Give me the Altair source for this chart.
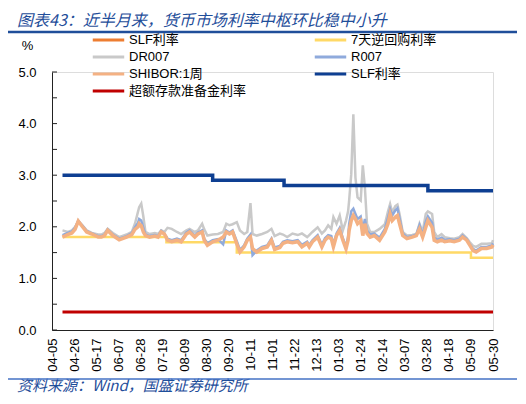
import altair as alt
import pandas as pd

# ---- daily series ----
dates = [
    "2024-04-15", "2024-04-20", "2024-04-24", "2024-04-27", "2024-04-30", "2024-05-04", "2024-05-08",
    "2024-05-13", "2024-05-19", "2024-05-22", "2024-05-25", "2024-05-28", "2024-06-02", "2024-06-08",
    "2024-06-15", "2024-06-20", "2024-06-23", "2024-06-26", "2024-06-27", "2024-06-29", "2024-07-01",
    "2024-07-03", "2024-07-07", "2024-07-12", "2024-07-15", "2024-07-18", "2024-07-21", "2024-07-24",
    "2024-07-28", "2024-08-02", "2024-08-06", "2024-08-11", "2024-08-14", "2024-08-19", "2024-08-22",
    "2024-08-26", "2024-08-28", "2024-08-31", "2024-09-05", "2024-09-10", "2024-09-15", "2024-09-18",
    "2024-09-21", "2024-09-24", "2024-09-28", "2024-10-01", "2024-10-05", "2024-10-08", "2024-10-11",
    "2024-10-13", "2024-10-17", "2024-10-22", "2024-10-27", "2024-10-31", "2024-11-03", "2024-11-08",
    "2024-11-11", "2024-11-15", "2024-11-20", "2024-11-25", "2024-11-29", "2024-12-04", "2024-12-06",
    "2024-12-09", "2024-12-14", "2024-12-18", "2024-12-21", "2024-12-24", "2024-12-27", "2024-12-29",
    "2025-01-01", "2025-01-04", "2025-01-07", "2025-01-10", "2025-01-12", "2025-01-13", "2025-01-15",
    "2025-01-17", "2025-01-19", "2025-01-21", "2025-01-24", "2025-01-26", "2025-01-28", "2025-01-30",
    "2025-02-02", "2025-02-06", "2025-02-11", "2025-02-16", "2025-02-19", "2025-02-21", "2025-02-23",
    "2025-02-26", "2025-02-28", "2025-03-02", "2025-03-05", "2025-03-09", "2025-03-14", "2025-03-18",
    "2025-03-21", "2025-03-24", "2025-03-27", "2025-03-29", "2025-04-02", "2025-04-04", "2025-04-07",
    "2025-04-11", "2025-04-14", "2025-04-19", "2025-04-23", "2025-04-28", "2025-05-01", "2025-05-05",
    "2025-05-08", "2025-05-11", "2025-05-14", "2025-05-19", "2025-05-24", "2025-05-29", "2025-05-30",
]
shibor = [
    1.80, 1.85, 1.88, 1.95, 2.11, 2.00, 1.90,
    1.86, 1.80, 1.80, 1.83, 1.93, 1.83, 1.75,
    1.80, 1.85, 1.95, 2.00, 2.06, 2.02, 1.90,
    1.83, 1.80, 1.82, 1.80, 1.90, 1.86, 1.74,
    1.71, 1.74, 1.71, 1.86, 1.90, 1.80, 1.86,
    1.90, 1.74, 1.64, 1.71, 1.74, 1.80, 1.90,
    1.86, 1.90, 1.67, 1.51, 1.61, 1.74, 1.80,
    1.58, 1.51, 1.58, 1.61, 1.74, 1.56, 1.60,
    1.68, 1.71, 1.69, 1.71, 1.61, 1.68, 1.61,
    1.71, 1.80, 1.61, 1.74, 1.80, 1.77, 1.61,
    1.83, 1.93, 1.74, 1.57, 1.74, 1.93, 2.12,
    2.22, 2.15, 2.06, 2.12, 1.83, 2.06, 1.87,
    1.80, 1.83, 1.74, 1.90, 2.06, 2.25, 2.12,
    2.19, 2.22, 2.06, 1.83, 1.77, 1.80, 1.83,
    1.96, 1.80, 1.99, 2.12, 1.99, 1.74, 1.71,
    1.74, 1.71, 1.73, 1.71, 1.74, 1.80, 1.74,
    1.64, 1.54, 1.51, 1.58, 1.58, 1.61, 1.65,
]
r007 = [
    1.84, 1.88, 1.91, 1.98, 2.12, 2.02, 1.92,
    1.87, 1.82, 1.82, 1.85, 1.95, 1.85, 1.77,
    1.82, 1.88, 1.99, 2.08, 2.15, 2.12, 1.98,
    1.85, 1.82, 1.84, 1.82, 1.92, 1.87, 1.77,
    1.74, 1.77, 1.74, 1.89, 1.93, 1.83, 1.89,
    1.93, 1.77, 1.68, 1.74, 1.76, 1.66, 1.93,
    1.89, 1.93, 1.72, 1.55, 1.64, 1.77, 1.85,
    1.45, 1.54, 1.61, 1.64, 1.77, 1.60, 1.63,
    1.71, 1.74, 1.72, 1.74, 1.65, 1.71, 1.65,
    1.74, 1.84, 1.65, 1.78, 1.84, 1.82, 1.66,
    1.87, 1.98, 1.78, 1.62, 1.80, 2.05, 2.30,
    2.35, 2.25, 2.15, 2.20, 1.95, 2.15, 1.93,
    1.85, 1.87, 1.79, 1.96, 2.18, 2.34, 2.22,
    2.32, 2.36, 2.16, 1.87, 1.80, 1.82, 1.85,
    2.03, 1.84, 2.10, 2.20, 2.08, 1.80, 1.75,
    1.79, 1.75, 1.76, 1.74, 1.77, 1.83, 1.76,
    1.66, 1.57, 1.54, 1.61, 1.61, 1.64, 1.68,
]
dr007 = [
    1.93, 1.90, 1.93, 2.00, 2.10, 2.03, 1.93,
    1.88, 1.85, 1.85, 1.88, 1.96, 1.88, 1.80,
    1.85, 1.90, 2.06, 2.30, 2.38, 2.45, 2.20,
    1.90, 1.86, 1.88, 1.86, 1.93, 1.90, 1.98,
    1.96, 1.90, 1.86, 1.93, 1.96, 1.90, 1.93,
    2.06, 1.95, 1.83, 1.85, 1.86, 1.90, 2.06,
    2.03, 2.05, 2.09, 1.93, 1.86, 1.90, 2.46,
    1.86, 1.83, 1.86, 1.90, 1.96, 1.82, 1.87,
    1.85, 1.80, 1.87, 1.84, 1.87, 1.80, 1.84,
    1.90, 1.99, 1.87, 1.93, 2.03, 1.96, 2.19,
    2.06, 2.22, 1.93, 2.12, 2.30, 2.51, 3.02,
    4.18, 2.95, 2.57, 2.51, 3.19, 2.76, 2.06,
    1.90, 1.90, 1.96, 2.05, 2.30, 2.44, 2.28,
    2.40, 2.43, 2.25, 1.90, 1.83, 1.84, 1.86,
    2.06, 1.90, 2.25, 2.30, 2.25, 1.90, 1.80,
    1.86, 1.80, 1.78, 1.77, 1.80, 1.86, 1.78,
    1.70, 1.63, 1.61, 1.67, 1.67, 1.68, 1.74,
]

# ---- policy rates (step series: date of each new level) ----
rr_dates = ["2024-04-15", "2024-07-23", "2024-09-28", "2025-05-09", "2025-05-30"]
rr_vals = [1.8, 1.7, 1.5, 1.4, 1.4]
slf_dates = ["2024-04-15", "2024-09-05", "2024-11-12", "2025-03-29", "2025-05-30"]
slf_vals = [3.0, 2.9, 2.8, 2.7, 2.7]
ex_dates = ["2024-04-15", "2025-05-30"]
ex_vals = [0.35, 0.35]

# ---- axis ticks ----
x_ticks = ["2024-04-05", "2024-04-26", "2024-05-17", "2024-06-07", "2024-06-28", "2024-07-19",
           "2024-08-09", "2024-08-30", "2024-09-20", "2024-10-11", "2024-11-01", "2024-11-22",
           "2024-12-13", "2025-01-03", "2025-01-24", "2025-02-14", "2025-03-07", "2025-03-28",
           "2025-04-18", "2025-05-09", "2025-05-30"]
y_ticks = [0.0, 0.5, 1.0, 1.5, 2.0, 2.5, 3.0, 3.5, 4.0, 4.5, 5.0]

# series names / colours (the dark-blue SLF line carries a trailing space so both
# "SLF利率" entries can live in one legend)
names = ["SLF利率", "7天逆回购利率", "DR007", "R007", "SHIBOR:1周", "SLF利率 ", "超额存款准备金利率"]
colors = ["#ED7D31", "#FFD966", "#C9C9C9", "#8FAADC", "#F4B183", "#0E3F92", "#C00000"]
# legend fills column by column: this order shows the entries row by row as in the reference
legend_order = [0, 2, 4, 6, 1, 3, 5]

title_text = "图表43：近半月来，货币市场利率中枢环比稳中小升"
source_text = "资料来源：Wind，国盛证券研究所"

LAT = "Liberation Sans, Noto Sans CJK SC"
CJK = "Noto Sans CJK SC"


def dt(s):
    y, m, d = (int(p) for p in s.split("-"))
    return alt.DateTime(year=y, month=m, date=d, utc=True)


def frame(ds, vs, name):
    return pd.DataFrame({"date": ds, "value": vs, "series": name})


df_rr = frame(rr_dates, rr_vals, names[1])
df_dr = frame(dates, dr007, names[2])
df_r = frame(dates, r007, names[3])
df_sh = frame(dates, shibor, names[4])
df_slf = frame(slf_dates, slf_vals, names[5])
df_ex = frame(ex_dates, ex_vals, names[6])

xscale = alt.Scale(type="utc", domain=[dt(x_ticks[0]), dt(x_ticks[-1])])
yscale = alt.Scale(domain=[0, 5], nice=False, zero=False)

dom = [names[i] for i in legend_order]
rng = [colors[i] for i in legend_order]

color = alt.Color(
    "series:N",
    scale=alt.Scale(domain=dom, range=rng),
    sort=dom,
    legend=alt.Legend(
        title=None, orient="none", legendX=39, legendY=-39, columns=2,
        columnPadding=61, rowPadding=3, symbolType="M-1,0H5", symbolSize=110,
        symbolStrokeWidth=3, labelFont=LAT, labelFontSize=13, labelColor="#000000",
        labelOffset=24, labelLimit=300,
    ),
)

x_enc = alt.X(
    "date:T", scale=xscale, title=None,
    axis=alt.Axis(values=[dt(t) for t in x_ticks], format="%m-%d", labelAngle=270,
                  ticks=False, grid=False, domainColor="#222222", labelFont=LAT,
                  labelFontSize=13, labelColor="#000000", labelPadding=8, labelFlush=False,
                  labelOverlap=False),
)
y_enc = alt.Y(
    "value:Q", scale=yscale,
    axis=alt.Axis(values=y_ticks, format=".1f", ticks=False, grid=False, domainColor="#222222",
                  labelFont=LAT, labelFontSize=13, labelColor="#000000", labelPadding=16,
                  title="%", titleAngle=0, titleX=-25, titleY=-27, titleFont=LAT,
                  titleFontSize=13, titleFontWeight="normal", titleAlign="center",
                  titleBaseline="middle", titleColor="#000000"),
)


def line(df, width, step=False):
    kw = {"interpolate": "step-after"} if step else {}
    return alt.Chart(df).mark_line(strokeWidth=width, **kw).encode(x=x_enc, y=y_enc, color=color)


ticks_df = pd.DataFrame({"value": y_ticks})
yticks = alt.Chart(ticks_df).mark_rule(color="#222222", strokeWidth=1).encode(
    y=alt.Y("value:Q", scale=yscale), x=alt.value(0), x2=alt.value(5))

one = pd.DataFrame({"t": [title_text], "s": [source_text]})
title = alt.Chart(one).mark_text(align="left", baseline="middle", font=CJK, fontStyle="italic",
                                 fontSize=16, color="#1F4E9A").encode(
    text="t:N", x=alt.value(-35), y=alt.value(-51))
source = alt.Chart(one).mark_text(align="left", baseline="middle", font=CJK, fontStyle="italic",
                                  fontSize=15, color="#1F4E9A").encode(
    text="s:N", x=alt.value(-35), y=alt.value(314))
rule_top = alt.Chart(one).mark_rule(color="#1F4E9A", strokeWidth=2.5).encode(
    x=alt.value(-47), x2=alt.value(465), y=alt.value(-40))
rule_bot = alt.Chart(one).mark_rule(color="#4472C4", strokeWidth=1.5).encode(
    x=alt.value(-47), x2=alt.value(465), y=alt.value(307))

chart = alt.layer(
    line(df_rr, 2.5, step=True),
    line(df_dr, 2.5),
    line(df_r, 2.5),
    line(df_sh, 3.5),
    line(df_slf, 3.5, step=True),
    line(df_ex, 3, step=True),
    yticks, title, source, rule_top, rule_bot,
).properties(
    width=441, height=258,
    autosize=alt.AutoSizeParams(type="none"),
    padding={"left": 44, "top": 64, "right": 25, "bottom": 66},
).configure_view(stroke=None).configure(background="white")

chart.save("out.html", embed_options={"renderer": "svg", "actions": False})
